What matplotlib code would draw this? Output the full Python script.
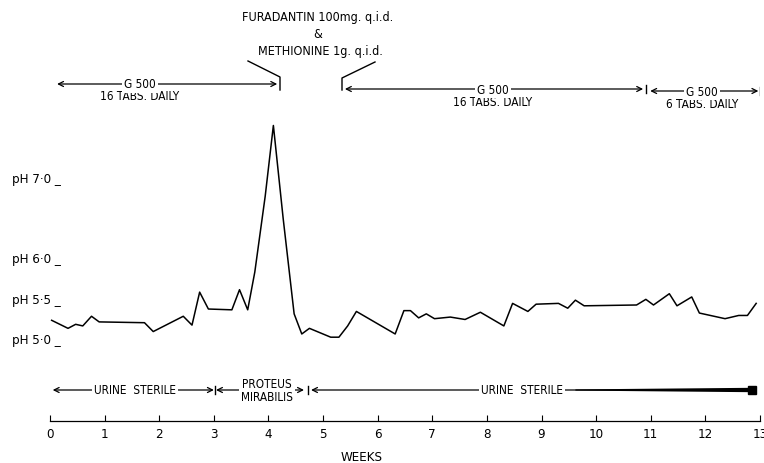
import matplotlib
matplotlib.use("Agg")
import matplotlib.pyplot as plt
from matplotlib.transforms import blended_transform_factory
from matplotlib.lines import Line2D

plt.rcParams['font.family'] = ['DejaVu Sans']
plt.rcParams['font.stretch'] = 'condensed'

# ---- data ----
weeks = [0.03, 0.33, 0.47, 0.60, 0.76, 0.90, 1.73, 1.89, 2.44, 2.60, 2.74, 2.90,
         3.33, 3.47, 3.62, 3.75, 3.94, 4.09, 4.27, 4.47, 4.61, 4.75, 5.14, 5.29,
         5.45, 5.61, 6.32, 6.48, 6.60, 6.75, 6.89, 7.04, 7.33, 7.60, 7.88, 8.31,
         8.47, 8.75, 8.90, 9.31, 9.48, 9.62, 9.78, 10.74, 10.91, 11.05, 11.34,
         11.48, 11.75, 11.89, 12.36, 12.61, 12.77, 12.93]
ph = [5.22, 5.12, 5.17, 5.15, 5.27, 5.20, 5.19, 5.08, 5.27, 5.16, 5.57, 5.36,
      5.35, 5.60, 5.35, 5.82, 6.76, 7.64, 6.48, 5.30, 5.05, 5.12, 5.01, 5.01,
      5.15, 5.33, 5.05, 5.34, 5.34, 5.25, 5.30, 5.24, 5.26, 5.23, 5.32, 5.15,
      5.43, 5.33, 5.42, 5.43, 5.37, 5.47, 5.40, 5.41, 5.48, 5.41, 5.55, 5.40,
      5.51, 5.31, 5.24, 5.28, 5.28, 5.43]

ph_ticks = [5.0, 5.5, 6.0, 7.0]
ph_tick_labels = ['pH 5·0 _', 'pH 5·5 _', 'pH 6·0 _', 'pH 7·0 _']
week_ticks = list(range(0, 14))

# treatment periods (weeks)
g500_starts = [0.13, 5.40, 10.99]
g500_ends = [4.16, 10.86, 12.97]
g500_dose = ['16 TABS. DAILY', '16 TABS. DAILY', '6 TABS. DAILY']
g500_label_x = [1.65, 8.11, 11.94]

# urine status periods (weeks)
urine_starts = [0.05, 3.04, 4.78]
urine_ends = [3.0, 4.65, 12.86]
urine_labels = ['URINE  STERILE', 'PROTEUS\nMIRABILIS', 'URINE  STERILE']
urine_label_x = [1.56, 3.97, 8.64]

W, H = 764, 464
fig = plt.figure(figsize=(W / 100, H / 100), dpi=100)
ax = fig.add_axes([50 / W, 0, 710 / W, 1])
ax.set_xlim(0, 13)
ax.set_ylim(5 - 125 / 80.5, 5 + 339 / 80.5)

def fy(py):
    return 1 - py / H

T = blended_transform_factory(ax.transData, ax.transAxes)

ax.plot(weeks, ph, color='black', lw=1.1, zorder=3)

# axes styling
for s in ['top', 'right', 'left']:
    ax.spines[s].set_visible(False)
ax.spines['bottom'].set_position(('axes', fy(422)))
ax.spines['bottom'].set_bounds(0, 13)
ax.spines['bottom'].set_linewidth(0.9)
ax.set_xticks(week_ticks)
ax.set_xticklabels([str(w) for w in week_ticks])
ax.tick_params(axis='x', direction='in', length=4, width=0.8, pad=4, labelsize=9.5)
ax.set_yticks(ph_ticks)
ax.set_yticklabels(ph_tick_labels)
ax.tick_params(axis='y', length=0, pad=-8, labelsize=9.5)
for lab in ax.get_yticklabels():
    lab.set_horizontalalignment('right')

fig.text(362 / W, fy(458), 'WEEKS', ha='center', va='center', fontsize=9.5)

# top drug annotation
fig.text(318 / W, fy(18), 'FURADANTIN 100mg. q.i.d.', ha='center', va='center', fontsize=9)
fig.text(318 / W, fy(34), '&', ha='center', va='center', fontsize=9)
fig.text(320 / W, fy(52), 'METHIONINE 1g. q.i.d.', ha='center', va='center', fontsize=9)

def figline(xs, ys, lw=1.0):
    fig.add_artist(Line2D([x / W for x in xs], [fy(y) for y in ys],
                          transform=fig.transFigure, color='black', lw=lw))

figline([248, 280, 280], [62, 78, 91])
figline([375, 342, 342], [63, 79, 91])

# G 500 periods
g500_y = [85, 90, 92]
text_box = dict(facecolor='white', edgecolor='none', pad=1.5)
for x0, x1, dose, lx, yy in zip(g500_starts, g500_ends, g500_dose, g500_label_x, g500_y):
    ax.annotate('', xy=(x1, fy(yy)), xytext=(x0, fy(yy)), xycoords=T, textcoords=T,
                arrowprops=dict(arrowstyle='<->', lw=0.9, shrinkA=0, shrinkB=0,
                                mutation_scale=9, color='black'))
    ax.text(lx, fy(yy), 'G 500', transform=T, ha='center', va='center',
            fontsize=8.5, bbox=text_box, zorder=5)
    ax.text(lx, fy(yy + 12), dose, transform=T, ha='center', va='center', fontsize=8.5)
for xb, yy in [(10.92, 90), (13.0, 92)]:
    ax.plot([xb, xb], [fy(yy - 4), fy(yy + 4)], transform=T, color='black', lw=1.0)

# urine periods
uy = fy(391)
for i, (x0, x1, lab, lx) in enumerate(zip(urine_starts, urine_ends, urine_labels, urine_label_x)):
    style = '<->' if i < 2 else '<-'
    ax.annotate('', xy=(x1, uy), xytext=(x0, uy), xycoords=T, textcoords=T,
                arrowprops=dict(arrowstyle=style, lw=0.9, shrinkA=0, shrinkB=0,
                                mutation_scale=9, color='black'))
    ax.text(lx, uy, lab, transform=T, ha='center', va='center', fontsize=8.5,
            bbox=text_box, zorder=5, linespacing=0.95)
for xb in [3.02, 4.72]:
    ax.plot([xb, xb], [fy(387), fy(395)], transform=T, color='black', lw=1.0)

# thickening line to the end of the sterile period
xa, xe = 9.62, urine_ends[2]
ax.fill([xa, xe, xe, xa], [uy + 0.6 / H, uy + 2.2 / H, uy - 2.2 / H, uy - 0.6 / H],
        transform=T, color='black', lw=0, zorder=6)
ax.plot([xe], [uy], transform=T, marker='s', ms=6, color='black', zorder=7)

fig.savefig('out.png', dpi=100)
